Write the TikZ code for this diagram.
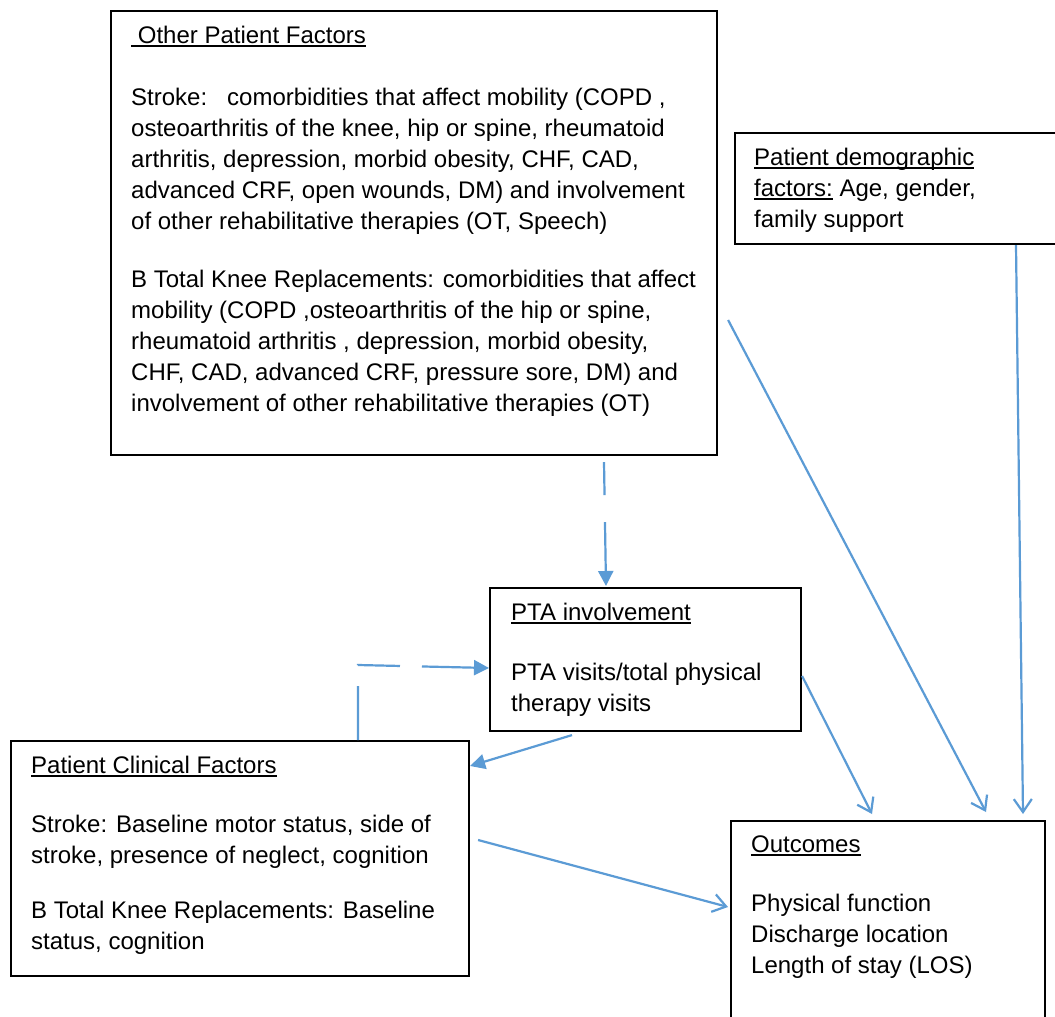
\documentclass[tikz,border=0pt]{standalone}
\usepackage{fontspec}
\setmainfont{Liberation Sans}
\usetikzlibrary{arrows.meta,calc}
\definecolor{conn}{HTML}{5B9BD5}
\newcommand{\myul}[1]{\setbox0\hbox{#1}\rlap{\rule[-3.4pt]{\wd0}{1.4pt}}\box0\relax}
\begin{document}
\begin{tikzpicture}[x=1pt,y=-1pt,
  box/.style={draw=black, line width=2.1pt, rectangle, inner sep=0pt, anchor=north west},
  txt/.style={inner sep=0pt, anchor=north west, align=left, font=\fontsize{24}{31}\selectfont},
  link/.style={draw=conn, line width=2.2pt},
  filledtip/.style={link, -{Triangle[length=15pt,width=15pt]}},
  opentip/.style={link, -{Straight Barb[length=13pt,width=18pt,line width=2.2pt]}},
]
\clip (0,0) rectangle (1055,1017);
\fill[white] (0,0) rectangle (1055,1017);

% boxes
\node[box, minimum width=606pt, minimum height=444pt] (other) at (110,10) {};
\node[box, minimum width=360pt, minimum height=111pt] (demo) at (734,132) {};
\node[box, minimum width=311pt, minimum height=143pt] (pta) at (489,587) {};
\node[box, minimum width=458pt, minimum height=235pt] (clin) at (10,740) {};
\node[box, minimum width=314pt, minimum height=230pt] (out) at (730,820) {};

% texts
\node[txt] (othertxt) at (131,21.3) {\strut\myul{\ Other Patient Factors}\\[31pt]
Stroke:\ \ \ comorbidities that affect mobility (COPD ,\\
osteoarthritis of the knee, hip or spine, rheumatoid\\
arthritis, depression, morbid obesity, CHF, CAD,\\
advanced CRF, open wounds, DM) and involvement\\
of other rehabilitative therapies (OT, Speech)\\[27pt]
B Total Knee Replacements: comorbidities that affect\\
mobility (COPD ,osteoarthritis of the hip or spine,\\
rheumatoid arthritis , depression, morbid obesity,\\
CHF, CAD, advanced CRF, pressure sore, DM) and\\
involvement of other rehabilitative therapies (OT)};

\node[txt] (demotxt) at (754,143.3) {\strut\myul{Patient demographic}\\
\myul{factors:} Age, gender,\\
family support};

\node[txt] (ptatxt) at (511,598.3) {\strut\myul{PTA involvement}\\[29pt]
PTA visits/total physical\\
therapy visits};

\node[txt] (clintxt) at (31,751.3) {\strut\myul{Patient Clinical Factors}\\[28pt]
Stroke: Baseline motor status, side of\\
stroke, presence of neglect, cognition\\[24pt]
B Total Knee Replacements: Baseline\\
status, cognition};

\node[txt] (outtxt) at (751,830.3) {\strut\myul{Outcomes}\\[28pt]
Physical function\\
Discharge location\\
Length of stay (LOS)};

% connector end points
\coordinate (c1s) at ($(other.south west)+(494,6)$);
\coordinate (c1e) at ($(pta.north west)+(117,-1)$);
\coordinate (c2s) at ($(clin.north west)+(348,0)$);
\coordinate (c2m) at ($(clin.north west)+(348,-75)$);
\coordinate (c2e) at ($(pta.north west)+(0,81)$);
\coordinate (c3s) at ($(pta.south west)+(83,3)$);
\coordinate (c3e) at ($(clin.north east)+(0,26)$);
\coordinate (c4s) at ($(pta.north east)+(0,89)$);
\coordinate (c4e) at ($(out.north west)+(142,-6)$);
\coordinate (c5s) at ($(other.north east)+(10,310)$);
\coordinate (c5e) at ($(out.north west)+(256,-8)$);
\coordinate (c6s) at ($(demo.south west)+(282,0)$);
\coordinate (c6e) at ($(out.north west)+(293,-6)$);
\coordinate (c7s) at ($(clin.north east)+(8,100)$);
\coordinate (c7e) at ($(out.north west)+(-2,87)$);

% connectors
\draw[filledtip, dash pattern=on 33pt off 27pt on 300pt] (c1s) -- (c1e);
\draw[filledtip, dash pattern=on 54pt off 21pt on 42pt off 22pt on 300pt] (c2s) -- (c2m) -- (c2e);
\draw[filledtip] (c3s) -- (c3e);
\draw[opentip] (c4s) -- (c4e);
\draw[opentip] (c5s) -- (c5e);
\draw[opentip] (c6s) -- (c6e);
\draw[opentip] (c7s) -- (c7e);
\end{tikzpicture}
\end{document}
